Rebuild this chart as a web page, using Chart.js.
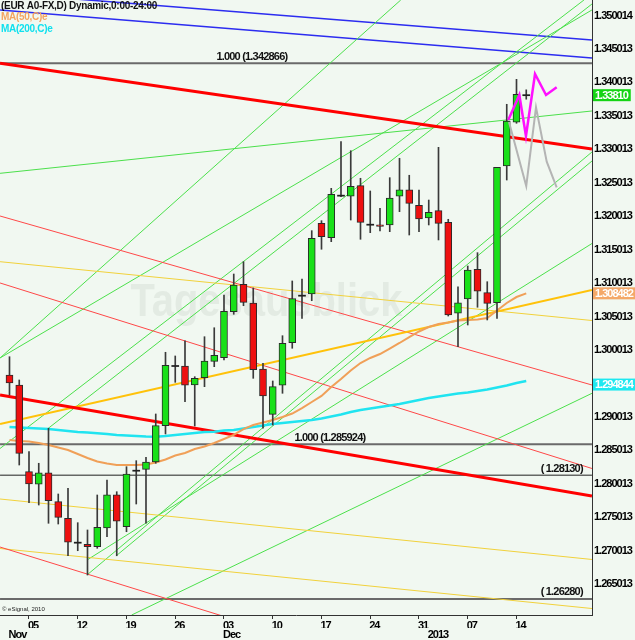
<!DOCTYPE html>
<html>
<head>
<meta charset="utf-8">
<title>EUR A0-FX daily</title>
<script src="https://cdn.jsdelivr.net/npm/chart.js@4.4.0/dist/chart.umd.min.js"></script>
<style>
  html, body { margin: 0; padding: 0; background: #f1f8f1; }
</style>
</head>
<body>
<canvas id="chart" width="635" height="640"></canvas>
<script>
// Daily candles, trading days only. Day number 0 = Mon 05 Nov 2012.
let dates = ["11-01", "11-02", "11-05", "11-06", "11-07", "11-08", "11-09", "11-12", "11-13", "11-14",
    "11-15", "11-16", "11-19", "11-20", "11-21", "11-22", "11-23", "11-26", "11-27", "11-28",
    "11-29", "11-30", "12-03", "12-04", "12-05", "12-06", "12-07", "12-10", "12-11", "12-12",
    "12-13", "12-14", "12-17", "12-18", "12-19", "12-20", "12-21", "12-24", "12-25", "12-26",
    "12-27", "12-28", "12-31", "01-01", "01-02", "01-03", "01-04", "01-07", "01-08", "01-09",
    "01-10", "01-11", "01-14", "01-15"];
let firstDay = -2;

let opens = [1.29628, 1.29478, 1.28182, 1.27994, 1.28167, 1.27734, 1.27485, 1.27121, 1.27097, 1.27061,
    1.27341, 1.27838, 1.27360, 1.28197, 1.28218, 1.28327, 1.28870, 1.29762, 1.29762, 1.29478,
    1.29587, 1.29832, 1.29886, 1.30574, 1.30983, 1.30704, 1.29717, 1.29040, 1.29474, 1.30110,
    1.30813, 1.30838, 1.31895, 1.31680, 1.32308, 1.32299, 1.32457, 1.31874, 1.31874, 1.31870,
    1.32299, 1.32397, 1.32164, 1.31974, 1.32084, 1.31910, 1.30550, 1.30764, 1.31208, 1.30858,
    1.30708, 1.32752, 1.33405, 1.33810];
let highs = [1.29901, 1.29553, 1.28481, 1.28308, 1.28831, 1.27849, 1.27934, 1.27420, 1.27311, 1.27834,
    1.28058, 1.27883, 1.28257, 1.28347, 1.28397, 1.29045, 1.29967, 1.29912, 1.30140, 1.29602,
    1.30200, 1.30334, 1.30823, 1.31137, 1.31321, 1.30928, 1.29802, 1.29538, 1.30215, 1.31033,
    1.31063, 1.31785, 1.31934, 1.32418, 1.33115, 1.32980, 1.32568, 1.32378, 1.32119, 1.32577,
    1.32867, 1.32613, 1.32393, 1.32243, 1.33031, 1.31955, 1.30947, 1.31257, 1.31456, 1.31022,
    1.32732, 1.33674, 1.34047, 1.33890];
let lows = [1.29329, 1.28282, 1.27719, 1.27684, 1.27411, 1.27400, 1.26926, 1.27001, 1.26638, 1.27037,
    1.27210, 1.26926, 1.27285, 1.27699, 1.27411, 1.28308, 1.28746, 1.29518, 1.29228, 1.28865,
    1.29453, 1.29752, 1.29852, 1.30535, 1.30663, 1.29578, 1.28831, 1.28880, 1.29354, 1.30027,
    1.30475, 1.30738, 1.31507, 1.31620, 1.32293, 1.31944, 1.31656, 1.31755, 1.31780, 1.31770,
    1.32069, 1.31720, 1.31770, 1.31870, 1.31646, 1.30509, 1.30050, 1.30375, 1.30640, 1.30450,
    1.30475, 1.32542, 1.33390, 1.33750];
let closes = [1.29508, 1.28457, 1.27998, 1.28167, 1.27749, 1.27500, 1.27127, 1.27121, 1.27061, 1.27351,
    1.27838, 1.27441, 1.28148, 1.28197, 1.28327, 1.28870, 1.29773, 1.29762, 1.29474, 1.29578,
    1.29837, 1.29922, 1.30580, 1.30973, 1.30714, 1.29707, 1.29314, 1.29453, 1.30101, 1.30768,
    1.30813, 1.31671, 1.31695, 1.32329, 1.32308, 1.32448, 1.31910, 1.31874, 1.31850, 1.32273,
    1.32397, 1.32194, 1.31959, 1.32060, 1.31895, 1.30524, 1.30708, 1.31197, 1.30879, 1.30699,
    1.32732, 1.33424, 1.33823, 1.33810];

// MA(50) and MA(200), one value per candle
let ma50 = [1.28656, 1.28641, 1.28633, 1.28611, 1.28581, 1.28544, 1.28507, 1.28447, 1.28387, 1.28335,
    1.28305, 1.28282, 1.28282, 1.28282, 1.28290, 1.28320, 1.28364, 1.28424, 1.28462, 1.28521,
    1.28559, 1.28611, 1.28671, 1.28731, 1.28820, 1.28880, 1.28917, 1.28955, 1.29000, 1.29052,
    1.29134, 1.29224, 1.29314, 1.29448, 1.29568, 1.29695, 1.29807, 1.29882, 1.29941, 1.30023,
    1.30106, 1.30195, 1.30278, 1.30345, 1.30390, 1.30412, 1.30442, 1.30450, 1.30457, 1.30479,
    1.30591, 1.30704, 1.30793, 1.30848];
let ma200 = [1.28850, 1.28842, 1.28835, 1.28828, 1.28820, 1.28805, 1.28790, 1.28775, 1.28768, 1.28756,
    1.28745, 1.28731, 1.28723, 1.28716, 1.28708, 1.28705, 1.28716, 1.28731, 1.28745, 1.28760,
    1.28775, 1.28780, 1.28798, 1.28805, 1.28828, 1.28850, 1.28873, 1.28895, 1.28910, 1.28925,
    1.28940, 1.28955, 1.28977, 1.29007, 1.29037, 1.29074, 1.29104, 1.29127, 1.29149, 1.29172,
    1.29194, 1.29224, 1.29254, 1.29284, 1.29306, 1.29329, 1.29351, 1.29366, 1.29388, 1.29411,
    1.29441, 1.29471, 1.29508, 1.29538];

// projected paths after the last candle
let pinkDays = [49.16, 50.29, 50.97, 51.9, 53.03, 54.12];
let pinkPrices = [1.33439, 1.33813, 1.33200, 1.34127, 1.33813, 1.33928];
let greyDays = [49.23, 51.0, 52.0, 53.1, 54.12];
let greyPrices = [1.33409, 1.32452, 1.33629, 1.32816, 1.32433];

// trend lines: [startDay, startPrice, endDay, endPrice]
let greenLines = [
    [-2.97, 1.32642, 57.74, 1.33574],
    [-2.97, 1.29882, 38.13, 1.35233],
    [-2.97, 1.29882, 57.74, 1.35084],
    [-2.97, 1.28529, 56.92, 1.35233],
    [1.98, 1.28831, 57.74, 1.35173],
    [5.95, 1.26638, 57.74, 1.32961],
    [8.92, 1.26922, 57.74, 1.32826],
    [5.95, 1.26862, 57.74, 1.31593],
    [10.53, 1.26040, 57.74, 1.29354]
];
let redThin = [
    [-2.97, 1.32004, 57.74, 1.29478],
    [-2.97, 1.31003, 57.74, 1.28230],
    [-2.97, 1.27056, 27.8, 1.25666]
];
let redThick = [
    [-2.97, 1.34287, 57.74, 1.33006],
    [-2.97, 1.29328, 57.74, 1.27819]
];
let yellowThin = [
    [-2.97, 1.31321, 57.74, 1.30442],
    [-2.97, 1.27774, 57.74, 1.26870],
    [-2.97, 1.27034, 57.74, 1.26137]
];
let goldLine = [-2.97, 1.28895, 57.74, 1.30898];
let blueLines = [
    [-2.97, 1.35337, 57.74, 1.34636],
    [-2.97, 1.35083, 57.74, 1.34366]
];

// horizontal levels
let levels = [1.342866, 1.285924, 1.28130, 1.26280];
let levelLabels = ["1.000 (1.342866)", "1.000 (1.285924)", "( 1.28130)", "( 1.26280)"];
let levelLabelEnd = [26.5, 34.5, 56.8, 56.8];

// axes
let yTicks = [1.265013, 1.270013, 1.275013, 1.280013, 1.285013, 1.290013, 1.295013, 1.300013, 1.305013,
    1.310013, 1.315013, 1.320013, 1.325013, 1.330013, 1.335013, 1.340013, 1.345013, 1.350014];
let yTickLabels = ["1.265013", "1.270013", "1.275013", "1.280013", "1.285013", "1.290013", "", "1.300013",
    "1.305013", "1.310013", "1.315013", "1.320013", "1.325013", "1.330013", "1.335013", "1.340013",
    "1.345013", "1.350014"];
let weekDays = [0, 5, 10, 15, 20, 25, 30, 35, 40, 45, 50];
let weekLabels = ["05", "12", "19", "26", "03", "10", "17", "24", "31", "07", "14"];
let monthDays = [-2, 20, 41];
let monthLabels = ["Nov", "Dec", "2013"];

let priceTags = [
    { value: 1.33810, text: "1.33810", color: "#14d414" },
    { value: 1.308482, text: "1.308482", color: "#f4a868" },
    { value: 1.294844, text: "1.294844", color: "#1ee8f0" }
];

let sansFamily = "'Liberation Sans', Arial, sans-serif";
let axisFont = { family: sansFamily, size: 11, weight: "bold" };

function segment(line, color, width, order) {
    return {
        type: "line",
        data: [{ x: line[0], y: line[1] }, { x: line[2], y: line[3] }],
        borderColor: color,
        borderWidth: width,
        pointRadius: 0,
        fill: false,
        tension: 0,
        clip: 0,
        order: order
    };
}

function buildDatasets() {
    let sets = [];
    let wicks = [];
    let bodies = [];
    let bodyColors = [];
    let edgeColors = [];
    let edgeWidths = [];

    for (let k = 0; k < dates.length; k++) {
        let day = k + firstDay;
        wicks.push({ x: day, y: [lows[k], highs[k]] });
        if (opens[k] === closes[k]) {
            bodies.push({ x: day, y: [opens[k] - 0.00008, opens[k] + 0.00008] });
            bodyColors.push("#202020");
            edgeColors.push("#202020");
            edgeWidths.push(0);
        } else {
            bodies.push({ x: day, y: [Math.min(opens[k], closes[k]), Math.max(opens[k], closes[k])] });
            bodyColors.push(closes[k] > opens[k] ? "#19e019" : "#ee1010");
            edgeColors.push("#2a2a2a");
            edgeWidths.push(1);
        }
    }

    sets.push({ type: "bar", data: bodies, backgroundColor: bodyColors, borderColor: edgeColors,
        borderWidth: edgeWidths, borderSkipped: false, barThickness: 7, grouped: false, order: 1 });
    sets.push({ type: "bar", data: wicks, backgroundColor: "#3a3a3a", barThickness: 1,
        grouped: false, order: 2 });

    sets.push({ type: "line", data: pinkDays.map((d, i) => ({ x: d, y: pinkPrices[i] })),
        borderColor: "#ff10ff", borderWidth: 2.5, pointRadius: 0, tension: 0, order: 0 });
    sets.push({ type: "line", data: greyDays.map((d, i) => ({ x: d, y: greyPrices[i] })),
        borderColor: "#b4b4b4", borderWidth: 2, pointRadius: 0, tension: 0, order: 0 });

    sets.push({ type: "line", data: ma50.map((v, k) => ({ x: k + firstDay, y: v })),
        borderColor: "#f0a058", borderWidth: 2, pointRadius: 0, tension: 0, clip: 0, order: 3 });
    sets.push({ type: "line", data: ma200.map((v, k) => ({ x: k + firstDay, y: v })),
        borderColor: "#20e4f0", borderWidth: 2.5, pointRadius: 0, tension: 0, clip: 0, order: 3 });

    redThick.forEach(l => sets.push(segment(l, "#ff0000", 3, 4)));
    sets.push(segment(goldLine, "#ffc20a", 2, 4));
    redThin.forEach(l => sets.push(segment(l, "#ff4848", 1, 5)));
    yellowThin.forEach(l => sets.push(segment(l, "#f2d23c", 1, 5)));
    greenLines.forEach(l => sets.push(segment(l, "#4ce04c", 1, 5)));
    blueLines.forEach(l => sets.push(segment(l, "#2c2cf0", 1.5, 5)));

    levels.forEach((v, i) => {
        let color = i === 2 ? "#202020" : "#6a6a6a";
        let width = i === 2 ? 1 : 2;
        sets.push(segment([-2.97, v, 57.74, v], color, width, 6));
    });
    return sets;
}

let decorPlugin = {
    id: "decor",
    beforeDraw(chart) {
        let ctx = chart.ctx;
        ctx.save();
        ctx.fillStyle = "#f1f8f1";
        ctx.fillRect(0, 0, chart.width, chart.height);
        ctx.restore();
        // the eSignal axis font is a narrow bold face: tighten the spacing for the axis labels
        ctx.letterSpacing = "-1px";
    },
    beforeDatasetsDraw(chart) {
        let ctx = chart.ctx;
        let x = chart.scales.x;
        ctx.save();
        ctx.letterSpacing = "0px";
        ctx.fillStyle = "#e3ebe3";
        ctx.font = "bold 46px " + sansFamily;
        ctx.textBaseline = "alphabetic";
        ctx.fillText("Tagesausblick", x.getPixelForValue(10.4), 316, 272);
        ctx.restore();
    },
    afterDatasetsDraw(chart) {
        let ctx = chart.ctx;
        let x = chart.scales.x;
        let y = chart.scales.y;
        ctx.save();
        ctx.letterSpacing = "-0.8px";
        ctx.font = "bold 11px " + sansFamily;
        ctx.fillStyle = "#111";
        ctx.textAlign = "right";
        ctx.textBaseline = "bottom";
        levels.forEach((v, i) => {
            ctx.fillText(levelLabels[i], x.getPixelForValue(levelLabelEnd[i]), y.getPixelForValue(v) - 1);
        });
        ctx.restore();
    },
    afterDraw(chart) {
        let ctx = chart.ctx;
        let y = chart.scales.y;
        let area = chart.chartArea;
        ctx.save();
        ctx.letterSpacing = "-1px";
        ctx.font = "bold 11px " + sansFamily;
        ctx.textBaseline = "middle";
        priceTags.forEach(t => {
            let py = y.getPixelForValue(t.value);
            let w = Math.min(ctx.measureText(t.text).width + 5, chart.width - area.right - 1);
            ctx.fillStyle = t.color;
            ctx.fillRect(area.right + 1, py - 6, w, 12);
            ctx.fillStyle = "#ffffff";
            ctx.fillText(t.text, area.right + 3, py + 0.5);
        });

        ctx.letterSpacing = "-0.3px";
        ctx.textBaseline = "alphabetic";
        ctx.font = "bold 10px " + sansFamily;
        ctx.fillStyle = "#111";
        ctx.fillText("(EUR A0-FX,D) Dynamic,0:00-24:00", 1, 9);
        ctx.fillStyle = "#f4a460";
        ctx.fillText("MA(50,C)e", 1, 20);
        ctx.fillStyle = "#10e0ee";
        ctx.fillText("MA(200,C)e", 1, 32);

        ctx.letterSpacing = "0px";
        ctx.font = "6px " + sansFamily;
        ctx.fillStyle = "#222";
        ctx.fillText("\u00a9 eSignal, 2010", 2, area.bottom - 4);
        ctx.restore();
    }
};

function noPadding(scale) {
    scale.paddingTop = 0;
    scale.paddingBottom = 0;
    scale.paddingLeft = 0;
    scale.paddingRight = 0;
}

new Chart(document.getElementById("chart"), {
    type: "bar",
    data: { datasets: buildDatasets() },
    options: {
        responsive: false,
        animation: false,
        events: [],
        layout: { padding: 0 },
        plugins: { legend: { display: false }, tooltip: { enabled: false } },
        scales: {
            x: {
                type: "linear",
                position: "bottom",
                weight: 0,
                min: -2.974,
                max: 57.744,
                offset: false,
                grid: { display: true, offset: false, drawOnChartArea: false, drawTicks: true, tickLength: 4, color: "#333" },
                border: { display: true, color: "#333", width: 1 },
                ticks: {
                    autoSkip: false,
                    maxRotation: 0,
                    padding: 0,
                    labelOffset: 4,
                    color: "#000",
                    font: axisFont,
                    callback: (v, i) => weekLabels[i]
                },
                afterBuildTicks: s => { s.ticks = weekDays.map(d => ({ value: d })); },
                afterFit: s => { s.height = 13; noPadding(s); }
            },
            x2: {
                type: "linear",
                position: "bottom",
                weight: 1,
                min: -2.974,
                max: 57.744,
                offset: false,
                grid: { display: false, drawTicks: false },
                border: { display: false },
                ticks: {
                    autoSkip: false,
                    maxRotation: 0,
                    padding: 0,
                    align: "start",
                    labelOffset: -1,
                    color: "#000",
                    font: axisFont,
                    callback: (v, i) => monthLabels[i]
                },
                afterBuildTicks: s => { s.ticks = monthDays.map(d => ({ value: d })); },
                afterFit: s => { s.height = 12; noPadding(s); }
            },
            y: {
                type: "linear",
                position: "right",
                min: 1.260401,
                max: 1.352328,
                grid: { display: false, drawTicks: false },
                border: { display: true, color: "#333", width: 1 },
                ticks: {
                    padding: 2,
                    color: "#000",
                    font: axisFont,
                    callback: (v, i) => yTickLabels[i]
                },
                afterBuildTicks: s => { s.ticks = yTicks.map(v => ({ value: v })); },
                afterFit: s => { s.width = 43; noPadding(s); }
            }
        }
    },
    plugins: [decorPlugin]
});
</script>
</body>
</html>
